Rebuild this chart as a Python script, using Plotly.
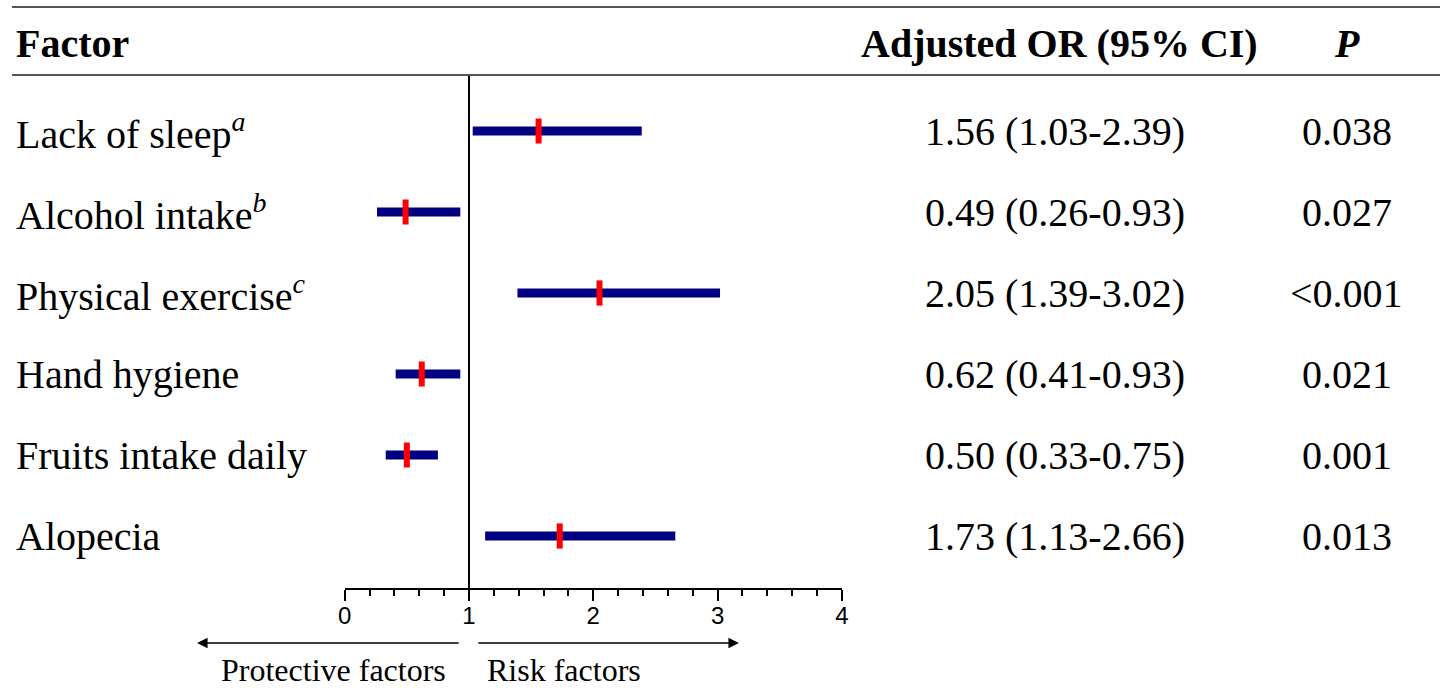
import plotly.graph_objects as go

# ---- data ----
factors = ["Lack of sleep<sup><i>a</i></sup>", "Alcohol intake<sup><i>b</i></sup>",
           "Physical exercise<sup><i>c</i></sup>", "Hand hygiene",
           "Fruits intake daily", "Alopecia"]
odds_ratio = [1.56, 0.49, 2.05, 0.62, 0.50, 1.73]
ci_low = [1.03, 0.26, 1.39, 0.41, 0.33, 1.13]
ci_high = [2.39, 0.93, 3.02, 0.93, 0.75, 2.66]
or_text = ["1.56 (1.03-2.39)", "0.49 (0.26-0.93)", "2.05 (1.39-3.02)",
           "0.62 (0.41-0.93)", "0.50 (0.33-0.75)", "1.73 (1.13-2.66)"]
p_text = ["0.038", "0.027", "<0.001", "0.021", "0.001", "0.013"]
tick_vals = [0, 1, 2, 3, 4]

W, H = 1447, 688
n = len(factors)
rows = [n - i for i in range(n)]  # top row = n

SERIF = "Liberation Serif, Times New Roman, serif"
SANS = "Liberation Sans, Arial, sans-serif"

# axis pixel geometry
x0_px, x4_px = 341, 843
ax_bottom_px, ax_top_px = 588, 75
def px_x(p): return p / W
def px_y(p): return (H - p) / H

fig = go.Figure()

# CI bars
bx, by = [], []
for lo, hi, r in zip(ci_low, ci_high, rows):
    bx += [lo, hi, None]
    by += [r, r, None]
fig.add_trace(go.Scatter(x=bx, y=by, mode="lines",
                         line=dict(color="#000080", width=9),
                         hoverinfo="skip", showlegend=False))
# point estimates
fig.add_trace(go.Scatter(x=odds_ratio, y=rows, mode="markers",
                         marker=dict(symbol="line-ns", size=18,
                                     line=dict(color="#ff0000", width=6)),
                         showlegend=False))

# reference line at OR = 1
fig.add_shape(type="line", xref="x", yref="y domain", x0=1, x1=1, y0=0, y1=1,
              line=dict(color="black", width=2))

# table rules
for ypx in [7, 75]:
    fig.add_shape(type="line", xref="paper", yref="paper", x0=px_x(5), x1=1,
                  y0=px_y(ypx), y1=px_y(ypx), line=dict(color="#555555", width=2))

LEFT_X, OR_X, P_X = 7, 1058, 1353

ann = []
# header
ann.append(dict(text="<b>Factor</b>", x=px_x(LEFT_X), y=px_y(43), xanchor="left"))
ann.append(dict(text="<b>Adjusted OR (95% CI)</b>", x=px_x(1063), y=px_y(43), xanchor="center"))
ann.append(dict(text="<b><i>P</i></b>", x=px_x(P_X), y=px_y(43), xanchor="center"))
for a in ann:
    a.update(xref="paper", yref="paper", yanchor="middle", showarrow=False,
             font=dict(family=SERIF, size=40, color="black"))
for f, o, p, r in zip(factors, or_text, p_text, rows):
    for t, xp, anc in [(f, LEFT_X, "left"), (o, OR_X, "center"), (p, P_X, "center")]:
        ann.append(dict(text=t, x=px_x(xp), y=r, xref="paper", yref="y",
                        xanchor=anc, yanchor="middle", showarrow=False,
                        font=dict(family=SERIF, size=40, color="black")))

# arrows and labels
ann.append(dict(x=px_x(192), y=px_y(643), xref="paper", yref="paper", text="",
                showarrow=True, ax=455 - 192, ay=0, arrowhead=2, arrowsize=1.3,
                arrowwidth=1.6, arrowcolor="black"))
ann.append(dict(x=px_x(739), y=px_y(643), xref="paper", yref="paper", text="",
                showarrow=True, ax=477 - 739, ay=0, arrowhead=2, arrowsize=1.3,
                arrowwidth=1.6, arrowcolor="black"))
ann.append(dict(text="Protective factors", x=px_x(445), y=px_y(670), xref="paper", yref="paper",
                xanchor="right", yanchor="middle", showarrow=False,
                font=dict(family=SERIF, size=32, color="black")))
ann.append(dict(text="Risk factors", x=px_x(483), y=px_y(670), xref="paper", yref="paper",
                xanchor="left", yanchor="middle", showarrow=False,
                font=dict(family=SERIF, size=32, color="black")))

unit_px = 81.0
lo_v = 1 - (ax_bottom_px - 536) / unit_px
hi_v = lo_v + (ax_bottom_px - ax_top_px) / unit_px

fig.update_layout(
    width=W, height=H, margin=dict(l=0, r=0, t=0, b=0),
    plot_bgcolor="white", paper_bgcolor="white",
    annotations=ann,
    xaxis=dict(domain=[px_x(x0_px), px_x(x4_px)], range=[0, 4],
               tickvals=tick_vals, ticktext=[str(v) for v in tick_vals],
               showline=True, linecolor="black", linewidth=2,
               ticks="outside", ticklen=11, tickwidth=2, tickcolor="black",
               ticklabelstandoff=-6,
               minor=dict(dtick=0.2, ticks="outside", ticklen=6, tickwidth=2, tickcolor="black"),
               showgrid=False, zeroline=False,
               tickfont=dict(family=SANS, size=24, color="black")),
    yaxis=dict(domain=[px_y(ax_bottom_px), px_y(ax_top_px)], range=[lo_v, hi_v],
               visible=False, showgrid=False, zeroline=False),
)

fig.write_html("out.html", config={"displayModeBar": False},
               post_script="document.body.style.margin='0';document.body.style.overflow='hidden';")
